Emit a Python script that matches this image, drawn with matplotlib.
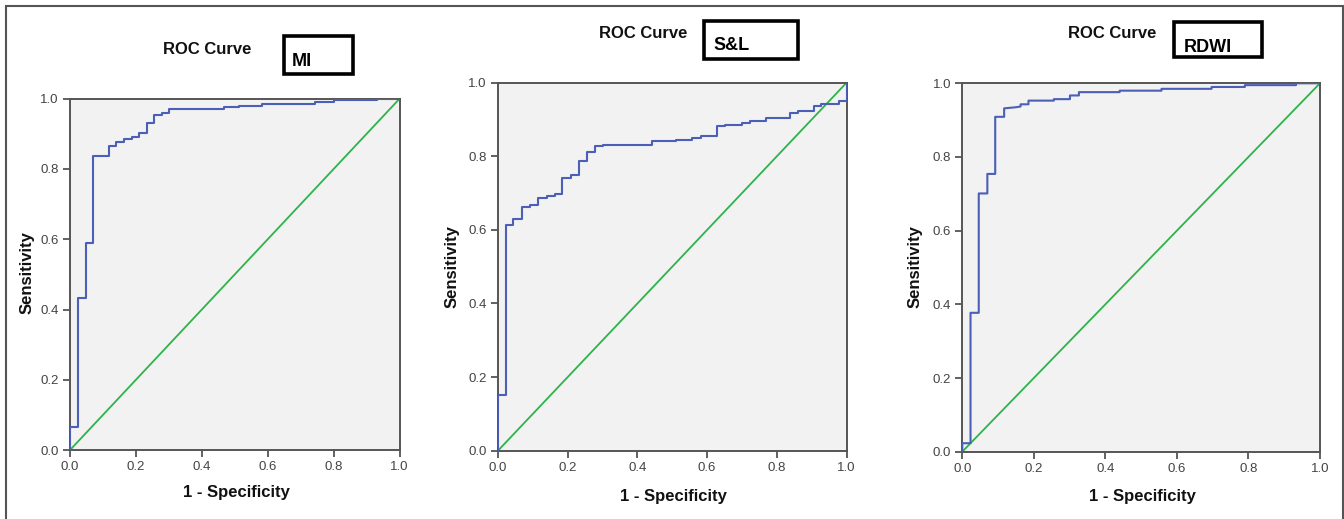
import matplotlib.pyplot as plt
from matplotlib.patches import Rectangle

plt.rcParams['font.family'] = ['Liberation Sans', 'DejaVu Sans']

# ROC step points (1 - specificity, sensitivity)
mi_fpr = [0.0, 0.0, 0.023, 0.023, 0.047, 0.047, 0.071, 0.071, 0.117, 0.117, 0.14, 0.14,
          0.163, 0.163, 0.187, 0.187, 0.21, 0.21, 0.233, 0.233, 0.256, 0.256, 0.278, 0.278,
          0.30, 0.30, 0.466, 0.466, 0.512, 0.512, 0.582, 0.582, 0.744, 0.744, 0.80, 0.80,
          0.93, 0.93, 1.0]
mi_tpr = [0.0, 0.065, 0.065, 0.432, 0.432, 0.59, 0.59, 0.838, 0.838, 0.866, 0.866, 0.876,
          0.876, 0.886, 0.886, 0.892, 0.892, 0.903, 0.903, 0.93, 0.93, 0.953, 0.953, 0.958,
          0.958, 0.972, 0.972, 0.975, 0.975, 0.98, 0.98, 0.985, 0.985, 0.99, 0.99, 0.997,
          0.997, 1.0, 1.0]

sl_fpr = [0.0, 0.0, 0.022, 0.022, 0.044, 0.044, 0.068, 0.068, 0.092, 0.092, 0.116, 0.116,
          0.14, 0.14, 0.163, 0.163, 0.185, 0.185, 0.209, 0.209, 0.232, 0.232, 0.254, 0.254,
          0.278, 0.278, 0.302, 0.302, 0.442, 0.442, 0.51, 0.51, 0.557, 0.557, 0.581, 0.581,
          0.627, 0.627, 0.651, 0.651, 0.699, 0.699, 0.723, 0.723, 0.768, 0.768, 0.837, 0.837,
          0.861, 0.861, 0.906, 0.906, 0.928, 0.928, 0.977, 0.977, 1.0, 1.0]
sl_tpr = [0.0, 0.15, 0.15, 0.612, 0.612, 0.629, 0.629, 0.662, 0.662, 0.668, 0.668, 0.687,
          0.687, 0.691, 0.691, 0.697, 0.697, 0.74, 0.74, 0.75, 0.75, 0.788, 0.788, 0.812,
          0.812, 0.828, 0.828, 0.832, 0.832, 0.841, 0.841, 0.845, 0.845, 0.851, 0.851, 0.856,
          0.856, 0.881, 0.881, 0.886, 0.886, 0.891, 0.891, 0.895, 0.895, 0.904, 0.904, 0.918,
          0.918, 0.922, 0.922, 0.937, 0.937, 0.942, 0.942, 0.949, 0.949, 1.0]

rd_fpr = [0.0, 0.0, 0.023, 0.023, 0.046, 0.046, 0.07, 0.07, 0.092, 0.092, 0.117, 0.117,
          0.15, 0.163, 0.163, 0.185, 0.185, 0.256, 0.256, 0.301, 0.301, 0.326, 0.326,
          0.44, 0.44, 0.557, 0.557, 0.697, 0.697, 0.79, 0.79, 0.933, 0.933, 1.0]
rd_tpr = [0.0, 0.023, 0.023, 0.377, 0.377, 0.701, 0.701, 0.754, 0.754, 0.909, 0.909, 0.932,
          0.935, 0.937, 0.943, 0.943, 0.953, 0.953, 0.957, 0.957, 0.967, 0.967, 0.976,
          0.976, 0.98, 0.98, 0.985, 0.985, 0.99, 0.99, 0.995, 0.995, 1.0, 1.0]

panels = [
    ('MI', mi_fpr, mi_tpr, [0.0521, 0.1329, 0.2452, 0.6769]),
    ('S&L', sl_fpr, sl_tpr, [0.3705, 0.1316, 0.2594, 0.7091]),
    ('RDWI', rd_fpr, rd_tpr, [0.7160, 0.1297, 0.2661, 0.7098]),
]
ticks = [0.0, 0.2, 0.4, 0.6, 0.8, 1.0]

# title text / label box positions in figure pixels (x, y from top)
titles = [(207, 50), (643, 33), (1112, 33)]
boxes = [(284, 36, 69, 38), (704, 21, 94, 38), (1174, 22, 88, 35)]
box_text = [(292, 62), (713, 46), (1184, 48)]
xlabels = [(236, 493), (673, 496), (1142, 497)]
ylabels = [(27, 273), (452, 267), (915, 267)]

W, H = 1344, 519
fig = plt.figure(figsize=(13.44, 5.19), dpi=100)

# outer frame
fig.patches.append(Rectangle((6 / W, -0.01), 1337 / W, 1 - 6 / H + 0.01,
                             transform=fig.transFigure, fill=False,
                             edgecolor='#555555', linewidth=1.5))

for i, (name, fpr, tpr, pos) in enumerate(panels):
    ax = fig.add_axes(pos)
    ax.set_facecolor('#f2f2f2')
    ax.plot(fpr, tpr, color='#4a5fb5', linewidth=1.5, zorder=3)
    ax.plot([0, 1], [0, 1], color='#2db34a', linewidth=1.3, zorder=2)
    ax.set_xlim(0, 1)
    ax.set_ylim(0, 1)
    ax.set_xticks(ticks)
    ax.set_yticks(ticks)
    ax.set_xticklabels([f'{t:.1f}' for t in ticks])
    ax.set_yticklabels([f'{t:.1f}' for t in ticks])
    ax.tick_params(direction='out', length=5, width=1.3, colors='#555555',
                   labelsize=9.5, labelcolor='#444444', pad=3)
    for s in ax.spines.values():
        s.set_color('#555555')
        s.set_linewidth(1.4)

    tx, ty = titles[i]
    fig.text(tx / W, 1 - ty / H, 'ROC Curve', ha='center', va='center',
             fontsize=12, fontweight='bold', color='#111111')
    bx, by, bw, bh = boxes[i]
    fig.patches.append(Rectangle((bx / W, 1 - (by + bh) / H), bw / W, bh / H,
                                 transform=fig.transFigure, fill=False,
                                 edgecolor='black', linewidth=2.6))
    px, py = box_text[i]
    fig.text(px / W, 1 - py / H, name, ha='left', va='center',
             fontsize=13, fontweight='bold', color='black')
    lx, ly = xlabels[i]
    fig.text(lx / W, 1 - ly / H, '1 - Specificity', ha='center', va='center',
             fontsize=12, fontweight='bold', color='#111111')
    yx, yy = ylabels[i]
    fig.text(yx / W, 1 - yy / H, 'Sensitivity', ha='center', va='center',
             rotation=90, fontsize=12, fontweight='bold', color='#111111')

fig.savefig('out.png', dpi=100)
